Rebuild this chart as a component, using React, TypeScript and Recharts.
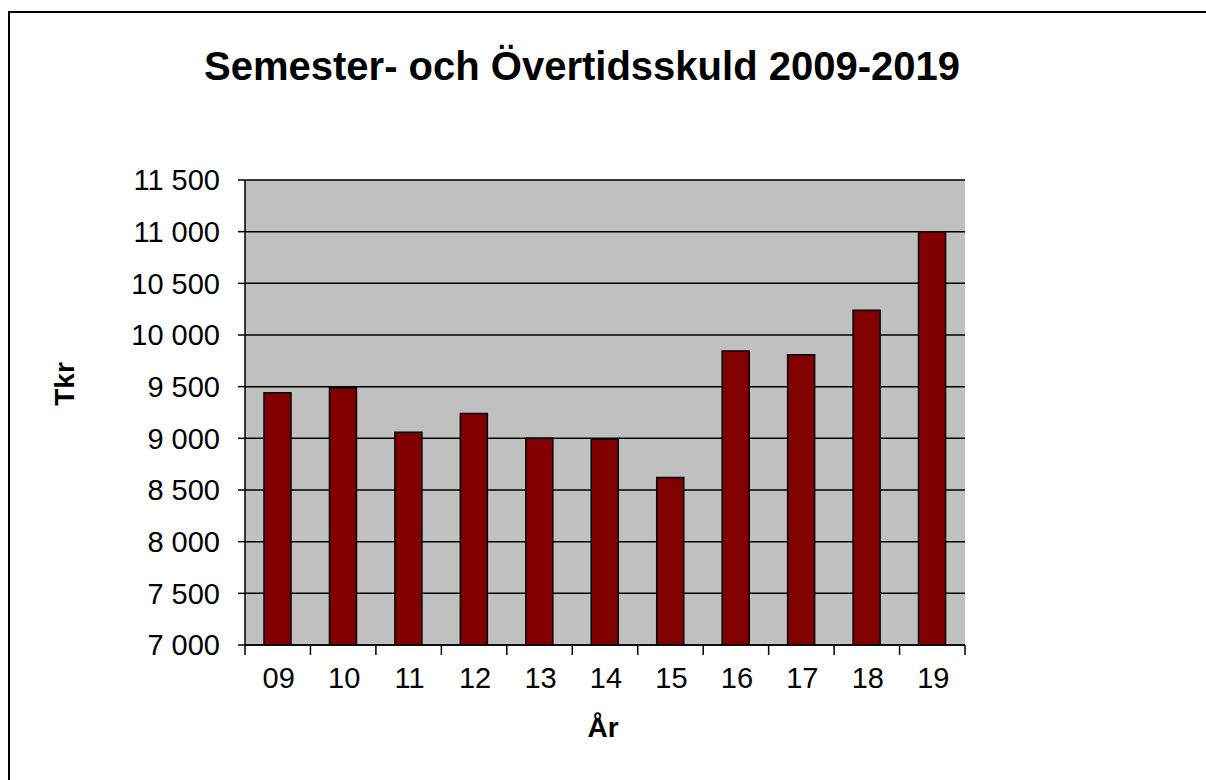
import React from "react";
import {
  BarChart,
  Bar,
  XAxis,
  YAxis,
  CartesianGrid,
} from "recharts";

const years = ["09", "10", "11", "12", "13", "14", "15", "16", "17", "18", "19"];
const debt = [9440, 9490, 9060, 9240, 9000, 8990, 8620, 9845, 9810, 10240, 11000];
const yTicks = [7000, 7500, 8000, 8500, 9000, 9500, 10000, 10500, 11000, 11500];

const data = years.map((year, i) => ({ year, debt: debt[i] }));

const FONT = '"Liberation Sans", Arial, sans-serif';

const fmt = (v: number) =>
  v >= 1000 ? `${Math.floor(v / 1000)} ${String(v % 1000).padStart(3, "0")}` : String(v);

// x tick: label at category centre, tick marks at category boundaries (Excel style)
function YearTick(props: any) {
  const { x, y, payload, index } = props;
  const half = payload?.offset ?? 32.7;
  const axisY = y - 22;
  const last = index === years.length - 1;
  return (
    <g>
      <line x1={x - half} x2={x - half} y1={axisY} y2={axisY + 10} stroke="#000" strokeWidth={1.5} />
      {last && (
        <line x1={x + half} x2={x + half} y1={axisY} y2={axisY + 10} stroke="#000" strokeWidth={1.5} />
      )}
      <text x={x + 1} y={y} dy="0.71em" textAnchor="middle" fill="#000" fontSize={29} fontFamily={FONT}>
        {payload.value}
      </text>
    </g>
  );
}

export default function App() {
  return (
    <div
      style={{
        position: "absolute",
        left: 0,
        top: 0,
        width: 1206,
        height: 780,
        overflow: "hidden",
        background: "#fff",
        fontFamily: FONT,
      }}
    >
      <div
        style={{
          position: "absolute",
          left: 8,
          top: 11,
          width: 1300,
          height: 900,
          border: "2px solid #000",
        }}
      />
      <div
        style={{
          position: "absolute",
          left: 582,
          top: 66,
          transform: "translate(-50%, -50%)",
          fontSize: 40,
          fontWeight: "bold",
          whiteSpace: "nowrap",
          color: "#000",
        }}
      >
        Semester- och Övertidsskuld 2009-2019
      </div>
      <div
        style={{
          position: "absolute",
          left: 65,
          top: 384,
          transform: "translate(-50%, -50%) rotate(-90deg)",
          fontSize: 28,
          fontWeight: "bold",
          color: "#000",
        }}
      >
        Tkr
      </div>
      <div
        style={{
          position: "absolute",
          left: 603,
          top: 728,
          transform: "translate(-50%, -50%)",
          fontSize: 28,
          fontWeight: "bold",
          color: "#000",
        }}
      >
        År
      </div>

      <div style={{ position: "absolute", left: 0, top: 0 }}>
        <BarChart
          width={1206}
          height={780}
          data={data}
          margin={{ top: 180, right: 241, bottom: 75, left: 145 }}
        >
          <CartesianGrid vertical={false} stroke="#000" strokeWidth={1.5} fill="#C0C0C0" fillOpacity={1} />
          <XAxis
            dataKey="year"
            height={60}
            stroke="#000"
            strokeWidth={1.5}
            tickLine={false}
            tickSize={10}
            tickMargin={12}
            interval={0}
            tick={<YearTick />}
          />
          <XAxis xAxisId="top" dataKey="year" orientation="top" height={0} tick={false} tickLine={false} stroke="#888" strokeWidth={1.5} />
          <YAxis
            width={100}
            domain={[7000, 11500]}
            ticks={yTicks}
            interval={0}
            tickFormatter={fmt}
            stroke="#000"
            strokeWidth={1.5}
            tickSize={7}
            tickMargin={18}
            tick={{ fill: "#000", fontSize: 29, fontFamily: FONT }}
            allowDataOverflow
          />
          <YAxis
            yAxisId="right"
            orientation="right"
            width={0}
            domain={[7000, 11500]}
            tick={false}
            tickLine={false}
            stroke="#888"
            strokeWidth={1.5}
          />
          <Bar
            dataKey="debt"
            fill="#800000"
            stroke="#000"
            strokeWidth={1.5}
            barSize={27}
            isAnimationActive={false}
          />
        </BarChart>
      </div>
    </div>
  );
}
